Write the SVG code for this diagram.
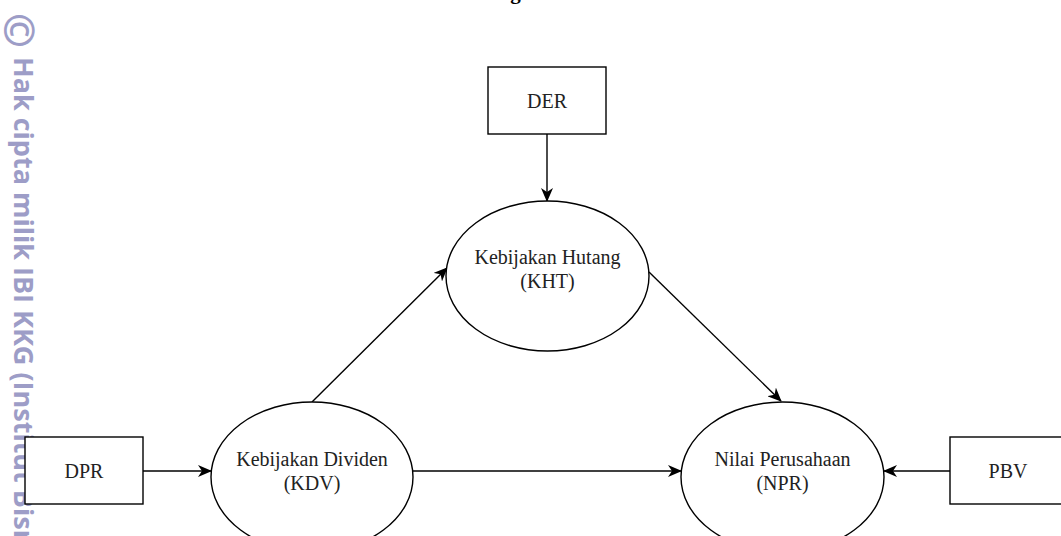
<svg xmlns="http://www.w3.org/2000/svg" width="1061" height="536" viewBox="0 0 1061 536">
  <style>
    .box { fill: #ffffff; stroke: #000000; stroke-width: 1.4; }
    .ell { fill: #ffffff; stroke: #000000; stroke-width: 1.4; }
    .lbl { font-family: "Liberation Serif", "Times New Roman", serif; font-size: 20px; fill: #222222; text-anchor: middle; }
    .conn { fill: none; stroke: #000000; stroke-width: 1.4; marker-end: url(#arrow); }
    .wm { font-family: "Open Sans", "Noto Sans", sans-serif; font-weight: 700; fill: #9d9dc7; }
  </style>
  <defs>
    <marker id="arrow" markerUnits="userSpaceOnUse" markerWidth="14" markerHeight="12" viewBox="0 0 14 12" refX="13" refY="6" orient="auto">
      <path d="M0,0 L14,6 L0,12 L4,6 z" fill="#000000"/>
    </marker>
  </defs>
  <rect x="0" y="0" width="1061" height="536" fill="#ffffff"/>

  <text x="453" y="-1.5" font-family="Liberation Serif, Times New Roman, serif" font-weight="700" font-size="21" fill="#000000">Kerangka Pemikiran</text>

  <g id="watermark">
    <text class="wm" font-size="42" font-weight="400" transform="translate(4,13) rotate(90)">©</text>
    <text class="wm" font-size="27" transform="translate(14,57) rotate(90)">Hak cipta milik IBI KKG (Institut Bisnis dan Informatika Kwik Kian Gie)</text>
  </g>

  <g id="connectors">
    <path class="conn" d="M547,134 L547,201"/>
    <path class="conn" d="M143,471 L211,471"/>
    <path class="conn" d="M413,471 L681,471"/>
    <path class="conn" d="M950,471 L884,471"/>
    <path class="conn" d="M312,402 L447,268"/>
    <path class="conn" d="M649,272 L781,401"/>
  </g>

  <g id="node-der">
    <rect class="box" x="488" y="67" width="118" height="67"/>
    <text class="lbl" x="547" y="108">DER</text>
  </g>
  <g id="node-kht">
    <ellipse class="ell" cx="547.5" cy="276" rx="101.5" ry="75"/>
    <text class="lbl" x="547.5" y="264">Kebijakan Hutang</text>
    <text class="lbl" x="547.5" y="288">(KHT)</text>
  </g>
  <g id="node-dpr">
    <rect class="box" x="25" y="437" width="118" height="67"/>
    <text class="lbl" x="84" y="478">DPR</text>
  </g>
  <g id="node-kdv">
    <ellipse class="ell" cx="312" cy="477" rx="101" ry="75"/>
    <text class="lbl" x="312" y="466">Kebijakan Dividen</text>
    <text class="lbl" x="312" y="490">(KDV)</text>
  </g>
  <g id="node-npr">
    <ellipse class="ell" cx="782.5" cy="477" rx="101.5" ry="75"/>
    <text class="lbl" x="782.5" y="466">Nilai Perusahaan</text>
    <text class="lbl" x="782.5" y="490">(NPR)</text>
  </g>
  <g id="node-pbv">
    <rect class="box" x="950" y="437" width="118" height="67"/>
    <text class="lbl" x="1008" y="478">PBV</text>
  </g>
</svg>
